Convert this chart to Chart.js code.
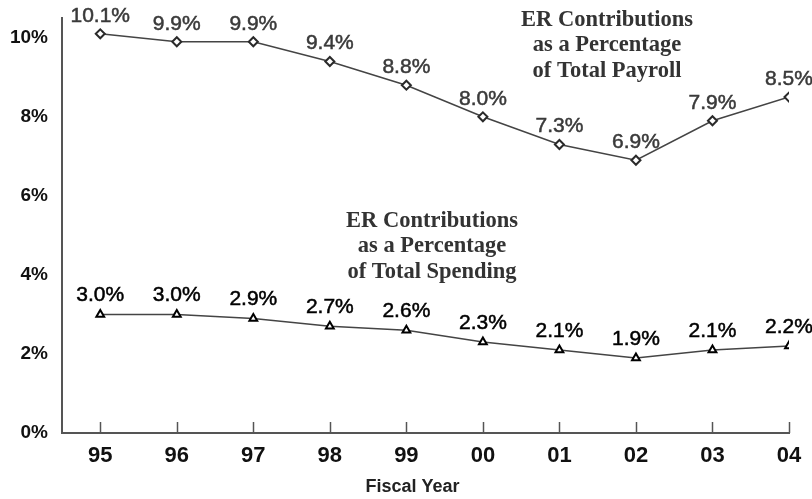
<!DOCTYPE html>
<html>
<head>
<meta charset="utf-8">
<script src="https://cdn.jsdelivr.net/npm/chart.js@4"></script>
<style>
  html, body { margin: 0; padding: 0; background: #fff; }
  #wrap { width: 812px; height: 499px; position: relative; }
</style>
</head>
<body>
<div id="wrap"><canvas id="c" width="812" height="499"></canvas></div>
<script>
// ---- data ----
const years = ["95", "96", "97", "98", "99", "00", "01", "02", "03", "04"];
const payrollPct = [10.1, 9.9, 9.9, 9.4, 8.8, 8.0, 7.3, 6.9, 7.9, 8.5];
const spendingPct = [3.0, 3.0, 2.9, 2.7, 2.6, 2.3, 2.1, 1.9, 2.1, 2.2];
const yTickValues = [0, 2, 4, 6, 8, 10];
const payrollNote = ["ER Contributions", "as a Percentage", "of Total Payroll"];
const spendingNote = ["ER Contributions", "as a Percentage", "of Total Spending"];
const xTitle = "Fiscal Year";

const toXY = arr => arr.map((v, i) => ({ x: i, y: v }));

const extrasPlugin = {
  id: 'extras',
  afterDraw(chart) {
    const ctx = chart.ctx;
    const xs = chart.scales.x;
    const ca = chart.chartArea;
    ctx.save();
    // inward tick marks on x axis
    ctx.strokeStyle = '#555';
    ctx.lineWidth = 1.5;
    years.forEach((_, i) => {
      const px = Math.round(xs.getPixelForValue(i)) + 0.5;
      ctx.beginPath();
      ctx.moveTo(px, ca.bottom);
      ctx.lineTo(px, ca.bottom - 11);
      ctx.stroke();
    });
    // value labels
    ctx.textAlign = 'center';
    ctx.textBaseline = 'middle';
    const labelSets = [
      { idx: 0, data: payrollPct, color: '#3a3a3a', dy: 18 },
      { idx: 1, data: spendingPct, color: '#000', dy: 19 }
    ];
    labelSets.forEach(s => {
      const meta = chart.getDatasetMeta(s.idx);
      ctx.font = '21px "Liberation Sans", Arial, sans-serif';
      ctx.fillStyle = s.color;
      ctx.strokeStyle = s.color;
      ctx.lineWidth = 0.5;
      meta.data.forEach((pt, i) => {
        const t = s.data[i].toFixed(1) + '%';
        ctx.fillText(t, pt.x, pt.y - s.dy);
        ctx.strokeText(t, pt.x, pt.y - s.dy);
      });
    });
    // annotations
    ctx.font = 'bold 22.5px "Liberation Serif", "Times New Roman", serif';
    ctx.fillStyle = '#333';
    const drawNote = (lines, cx, cy0) => {
      lines.forEach((t, k) => ctx.fillText(t, cx, cy0 + k * 25.5));
    };
    drawNote(payrollNote, 607, 20);
    drawNote(spendingNote, 432, 221);
    // x axis title
    ctx.font = 'bold 18px "Liberation Sans", Arial, sans-serif';
    ctx.fillStyle = '#222';
    ctx.fillText(xTitle, (ca.left + ca.right) / 2 - 13, 487);
    ctx.restore();
  }
};

new Chart(document.getElementById('c'), {
  type: 'line',
  data: {
    datasets: [
      {
        label: 'Payroll',
        data: toXY(payrollPct),
        borderColor: '#444',
        borderWidth: 1.5,
        pointStyle: 'rectRot',
        pointRadius: 4.5,
        pointBorderWidth: 2,
        pointBackgroundColor: '#fff',
        pointBorderColor: '#2a2a2a',
        tension: 0
      },
      {
        label: 'Spending',
        data: toXY(spendingPct),
        borderColor: '#444',
        borderWidth: 1.5,
        pointStyle: 'triangle',
        pointRadius: 4.5,
        pointBorderWidth: 2,
        pointBackgroundColor: '#fff',
        pointBorderColor: '#000',
        tension: 0
      }
    ]
  },
  options: {
    responsive: false,
    animation: false,
    layout: { padding: { top: 18, right: 23, left: 0, bottom: 0 } },
    plugins: { legend: { display: false }, tooltip: { enabled: false }, title: { display: false } },
    scales: {
      x: {
        type: 'linear',
        min: -0.5,
        max: 9,
        afterBuildTicks: axis => { axis.ticks = years.map((_, i) => ({ value: i })); },
        afterFit: scale => { scale.height = 66; scale.paddingLeft = 0; scale.paddingRight = 0; },
        grid: { display: true, drawOnChartArea: false, drawTicks: false },
        border: { display: true, color: '#555', width: 2 },
        ticks: {
          padding: 10,
          color: '#111',
          font: { family: '"Liberation Sans", Arial, sans-serif', size: 22, weight: 'bold' },
          callback: v => years[v] !== undefined && Number.isInteger(v) ? years[v] : ''
        }
      },
      y: {
        min: 0,
        max: 10.5,
        afterBuildTicks: axis => { axis.ticks = yTickValues.map(v => ({ value: v })); },
        afterFit: scale => { scale.width = 62; scale.paddingTop = 0; scale.paddingBottom = 0; },
        grid: { display: true, drawOnChartArea: false, drawTicks: false },
        border: { display: true, color: '#555', width: 2 },
        ticks: {
          padding: 14,
          color: '#111',
          font: { family: '"Liberation Sans", Arial, sans-serif', size: 19, weight: 'bold' },
          callback: v => v + '%'
        }
      }
    }
  },
  plugins: [extrasPlugin]
});
</script>
</body>
</html>
